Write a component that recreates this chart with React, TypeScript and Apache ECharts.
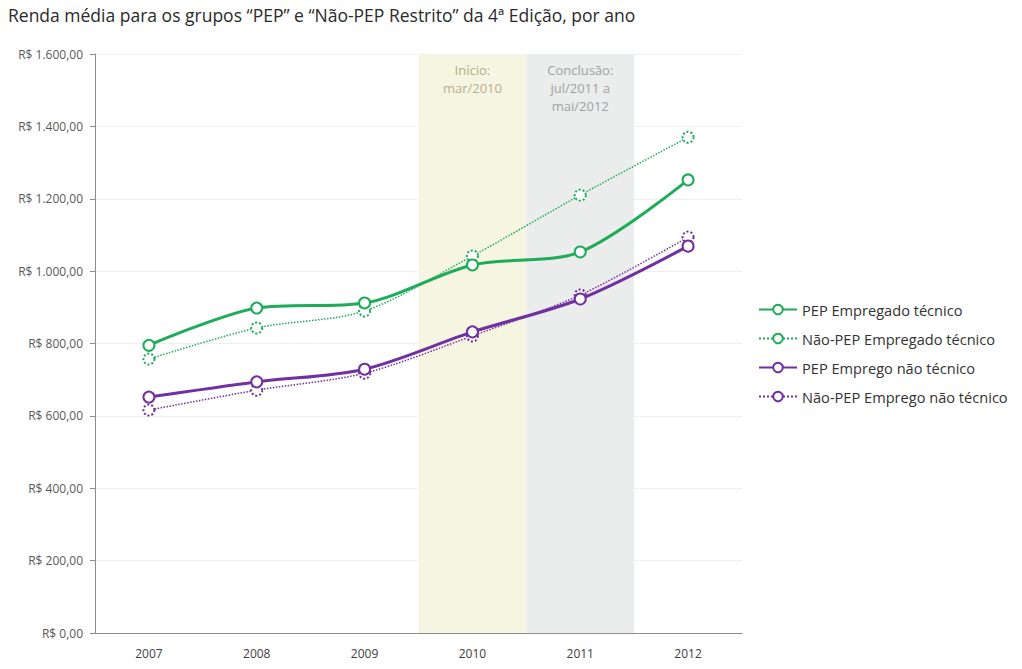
import React, { useEffect, useRef } from "react";
import * as echarts from "echarts";

const years = ["2007", "2008", "2009", "2010", "2011", "2012"];
const pepTecnico = [795, 898, 912, 1017, 1053, 1252];
const naoPepTecnico = [757, 843, 890, 1042, 1210, 1370];
const pepNaoTecnico = [652, 694, 729, 832, 923, 1069];
const naoPepNaoTecnico = [616, 671, 718, 821, 934, 1094];
const seriesNames = [
  "PEP Empregado técnico",
  "Não-PEP Empregado técnico",
  "PEP Emprego não técnico",
  "Não-PEP Emprego não técnico",
];
const bandYears = ["2010", "2011"];
const bandTexts = ["Início:\nmar/2010", "Conclusão:\njul/2011 a\nmai/2012"];
const bandColors = ["#f6f5e2", "#ebecec"];
const bandTextColors = ["#b3ae8c", "#a2a2a2"];
const yMax = 1600;
const yInterval = 200;

const GREEN = "#1fab5a";
const PURPLE = "#7030a0";
const FONT = "'Open Sans', 'Noto Sans', sans-serif";

function formatBRL(v: number): string {
  const intPart = Math.floor(v).toString().replace(/\B(?=(\d{3})+(?!\d))/g, ".");
  return "R$ " + intPart + ",00";
}

export default function App() {
  const ref = useRef<HTMLDivElement>(null);
  useEffect(() => {
    document.body.style.margin = "0";
    const chart = echarts.init(ref.current!, undefined, { renderer: "svg" });
    const solid = (name: string, data: number[], color: string) => ({
      name,
      type: "line",
      data,
      smooth: 0.3,
      symbol: "emptyCircle",
      symbolSize: 11,
      z: 5,
      lineStyle: { color, width: 3 },
      itemStyle: { color, borderColor: color, borderWidth: 2.5 },
    });
    const dotted = (name: string, data: number[], color: string) => ({
      name,
      type: "line",
      data,
      smooth: 0.3,
      symbol: "emptyCircle",
      symbolSize: 11,
      z: 4,
      lineStyle: { color, width: 1.5, type: "dotted" },
      itemStyle: { color, borderColor: color, borderWidth: 1.5, borderType: "dotted" },
    });
    const bandData = years.map((y) => {
      const i = bandYears.indexOf(y);
      if (i < 0) return { value: null };
      return {
        value: yMax,
        itemStyle: { color: bandColors[i] },
        label: {
          show: true,
          position: "insideTop",
          distance: 7,
          formatter: bandTexts[i],
          color: bandTextColors[i],
          fontSize: 13,
          lineHeight: 18,
          fontFamily: FONT,
          align: "center",
        },
      };
    });
    chart.setOption({
      animation: false,
      title: {
        text: "Renda média para os grupos “PEP” e “Não-PEP Restrito” da 4ª Edição, por ano",
        left: 3,
        top: 1,
        textStyle: { fontSize: 17.5, fontWeight: "normal", color: "#2a2a2a", fontFamily: FONT },
      },
      legend: {
        data: seriesNames,
        orient: "vertical",
        left: 753,
        top: 295,
        itemGap: 10,
        itemWidth: 38,
        itemHeight: 12,
        textStyle: { fontSize: 14.6, color: "#333", fontFamily: FONT, lineHeight: 19 },
      },
      grid: { left: 95, right: 280, top: 54, bottom: 36 },
      xAxis: {
        type: "category",
        data: years,
        axisLine: { lineStyle: { color: "#8c8c8c", width: 1 } },
        axisTick: { lineStyle: { color: "#8c8c8c" }, length: 5 },
        axisLabel: { color: "#404040", fontSize: 12, fontFamily: FONT, margin: 14 },
      },
      yAxis: {
        type: "value",
        min: 0,
        max: yMax,
        interval: yInterval,
        axisLine: { show: true, lineStyle: { color: "#8c8c8c" } },
        axisTick: { show: true, lineStyle: { color: "#8c8c8c" }, length: 5 },
        axisLabel: {
          color: "#595959",
          fontSize: 12,
          fontFamily: FONT,
          margin: 12,
          formatter: (v: number) => formatBRL(v),
        },
        splitLine: { lineStyle: { color: "#eeeeee" } },
      },
      series: [
        {
          name: "bands",
          type: "bar",
          data: bandData,
          barWidth: "100%",
          z: 1,
          silent: true,
        },
        solid(seriesNames[0], pepTecnico, GREEN),
        dotted(seriesNames[1], naoPepTecnico, GREEN),
        solid(seriesNames[2], pepNaoTecnico, PURPLE),
        dotted(seriesNames[3], naoPepNaoTecnico, PURPLE),
      ],
    });
    return () => chart.dispose();
  }, []);
  return <div ref={ref} style={{ width: 1022, height: 669 }} />;
}
